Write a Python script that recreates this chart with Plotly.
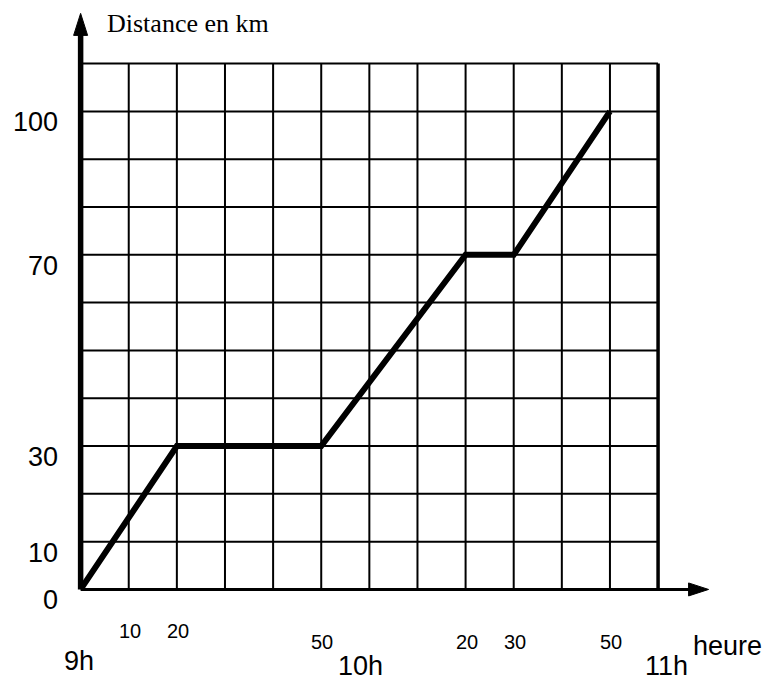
import plotly.graph_objects as go

# Trajet : distance parcourue (km) en fonction du temps (minutes après 9h)
minutes = [0, 20, 50, 80, 90, 110]
distance = [0, 30, 30, 70, 70, 100]

y_tick_values = [0, 10, 30, 70, 100]
y_tick_labels = ["0", "10", "30", "70", "100"]

minute_tick_values = [10, 20, 50, 80, 90, 110]
minute_tick_labels = ["10", "20", "50", "20", "30", "50"]

hour_values = [0, 60, 120]
hour_labels = ["9h", "10h", "11h"]

grid_step = 10
x_end = 120      # 11h
y_end = 110      # top of the grid

# ---- layout geometry ----
W, H = 780, 680
x_range = [-2, 131]
y_range = [-2, 121]
margin = dict(l=71, r=69, t=11, b=81)
plot_w = W - margin["l"] - margin["r"]
plot_h = H - margin["t"] - margin["b"]
px_x = plot_w / (x_range[1] - x_range[0])   # pixels per minute
px_y = plot_h / (y_range[1] - y_range[0])   # pixels per km

sans = "Liberation Sans, Arial, sans-serif"
serif = "Liberation Serif, Times New Roman, serif"

shapes = []
# grid
for gx in range(grid_step, x_end, grid_step):
    shapes.append(dict(type="line", xref="x", yref="y", x0=gx, x1=gx, y0=0, y1=y_end,
                       line=dict(color="black", width=2), layer="below"))
for gy in range(grid_step, y_end + 1, grid_step):
    shapes.append(dict(type="line", xref="x", yref="y", x0=0, x1=x_end, y0=gy, y1=gy,
                       line=dict(color="black", width=2), layer="below"))
# thick line at 11h
shapes.append(dict(type="line", xref="x", yref="y", x0=x_end, x1=x_end, y0=0, y1=y_end,
                   line=dict(color="black", width=3.5), layer="below"))

# axes with arrowheads
y_tip = 120.5
x_tip = 130.5
y_head_len = 22 / px_y
y_head_half = 7 / px_x
x_head_len = 20 / px_x
x_head_half = 6.5 / px_y

shapes.append(dict(type="line", xref="x", yref="y", x0=0, x1=0, y0=0, y1=y_tip - y_head_len + 0.5,
                   line=dict(color="black", width=5.5)))
shapes.append(dict(type="path", xref="x", yref="y",
                   path=f"M {-y_head_half} {y_tip - y_head_len} L 0 {y_tip} L {y_head_half} {y_tip - y_head_len} Z",
                   fillcolor="black", line=dict(color="black", width=1)))
shapes.append(dict(type="line", xref="x", yref="y", x0=0, x1=x_tip - x_head_len + 0.3, y0=0, y1=0,
                   line=dict(color="black", width=3)))
shapes.append(dict(type="path", xref="x", yref="y",
                   path=f"M {x_tip - x_head_len} {-x_head_half} L {x_tip} 0 L {x_tip - x_head_len} {x_head_half} Z",
                   fillcolor="black", line=dict(color="black", width=1)))

fig = go.Figure()
fig.add_trace(go.Scatter(x=minutes, y=distance, mode="lines",
                         line=dict(color="black", width=6), hoverinfo="skip",
                         showlegend=False, cliponaxis=False))

annotations = []
# y labels
for v, t in zip(y_tick_values, y_tick_labels):
    annotations.append(dict(x=0, y=v, xref="x", yref="y", text=t, showarrow=False,
                            xanchor="right", yanchor="middle", xshift=-21, yshift=-11,
                            font=dict(family=sans, size=27, color="black")))
# minute labels (two rows)
minute_row_shift = [-42, -42, -53, -53, -53, -53]
for v, t, s in zip(minute_tick_values, minute_tick_labels, minute_row_shift):
    annotations.append(dict(x=v, y=0, xref="x", yref="y", text=t, showarrow=False,
                            xanchor="center", yanchor="middle", xshift=1, yshift=s,
                            font=dict(family=sans, size=20, color="black")))
# hour labels
hour_shift = [(-2, -72), (-9, -77), (8, -77)]
for v, t, (sx, sy) in zip(hour_values, hour_labels, hour_shift):
    annotations.append(dict(x=v, y=0, xref="x", yref="y", text=t, showarrow=False,
                            xanchor="center", yanchor="middle", xshift=sx, yshift=sy,
                            font=dict(family=sans, size=27, color="black")))
# axis titles
annotations.append(dict(x=x_end, y=0, xref="x", yref="y", text="heure", showarrow=False,
                        xanchor="center", yanchor="middle", xshift=69, yshift=-57,
                        font=dict(family=sans, size=27, color="black")))
annotations.append(dict(x=0, y=0, xref="x", yref="y", text="Distance en km", showarrow=False,
                        xanchor="left", yanchor="middle", xshift=24, yshift=566,
                        font=dict(family=serif, size=26, color="black")))

fig.update_layout(
    width=W, height=H, margin=margin,
    paper_bgcolor="white", plot_bgcolor="white",
    xaxis=dict(range=x_range, visible=False, fixedrange=True),
    yaxis=dict(range=y_range, visible=False, fixedrange=True),
    shapes=shapes, annotations=annotations, showlegend=False,
)

fig.write_html("out.html")
